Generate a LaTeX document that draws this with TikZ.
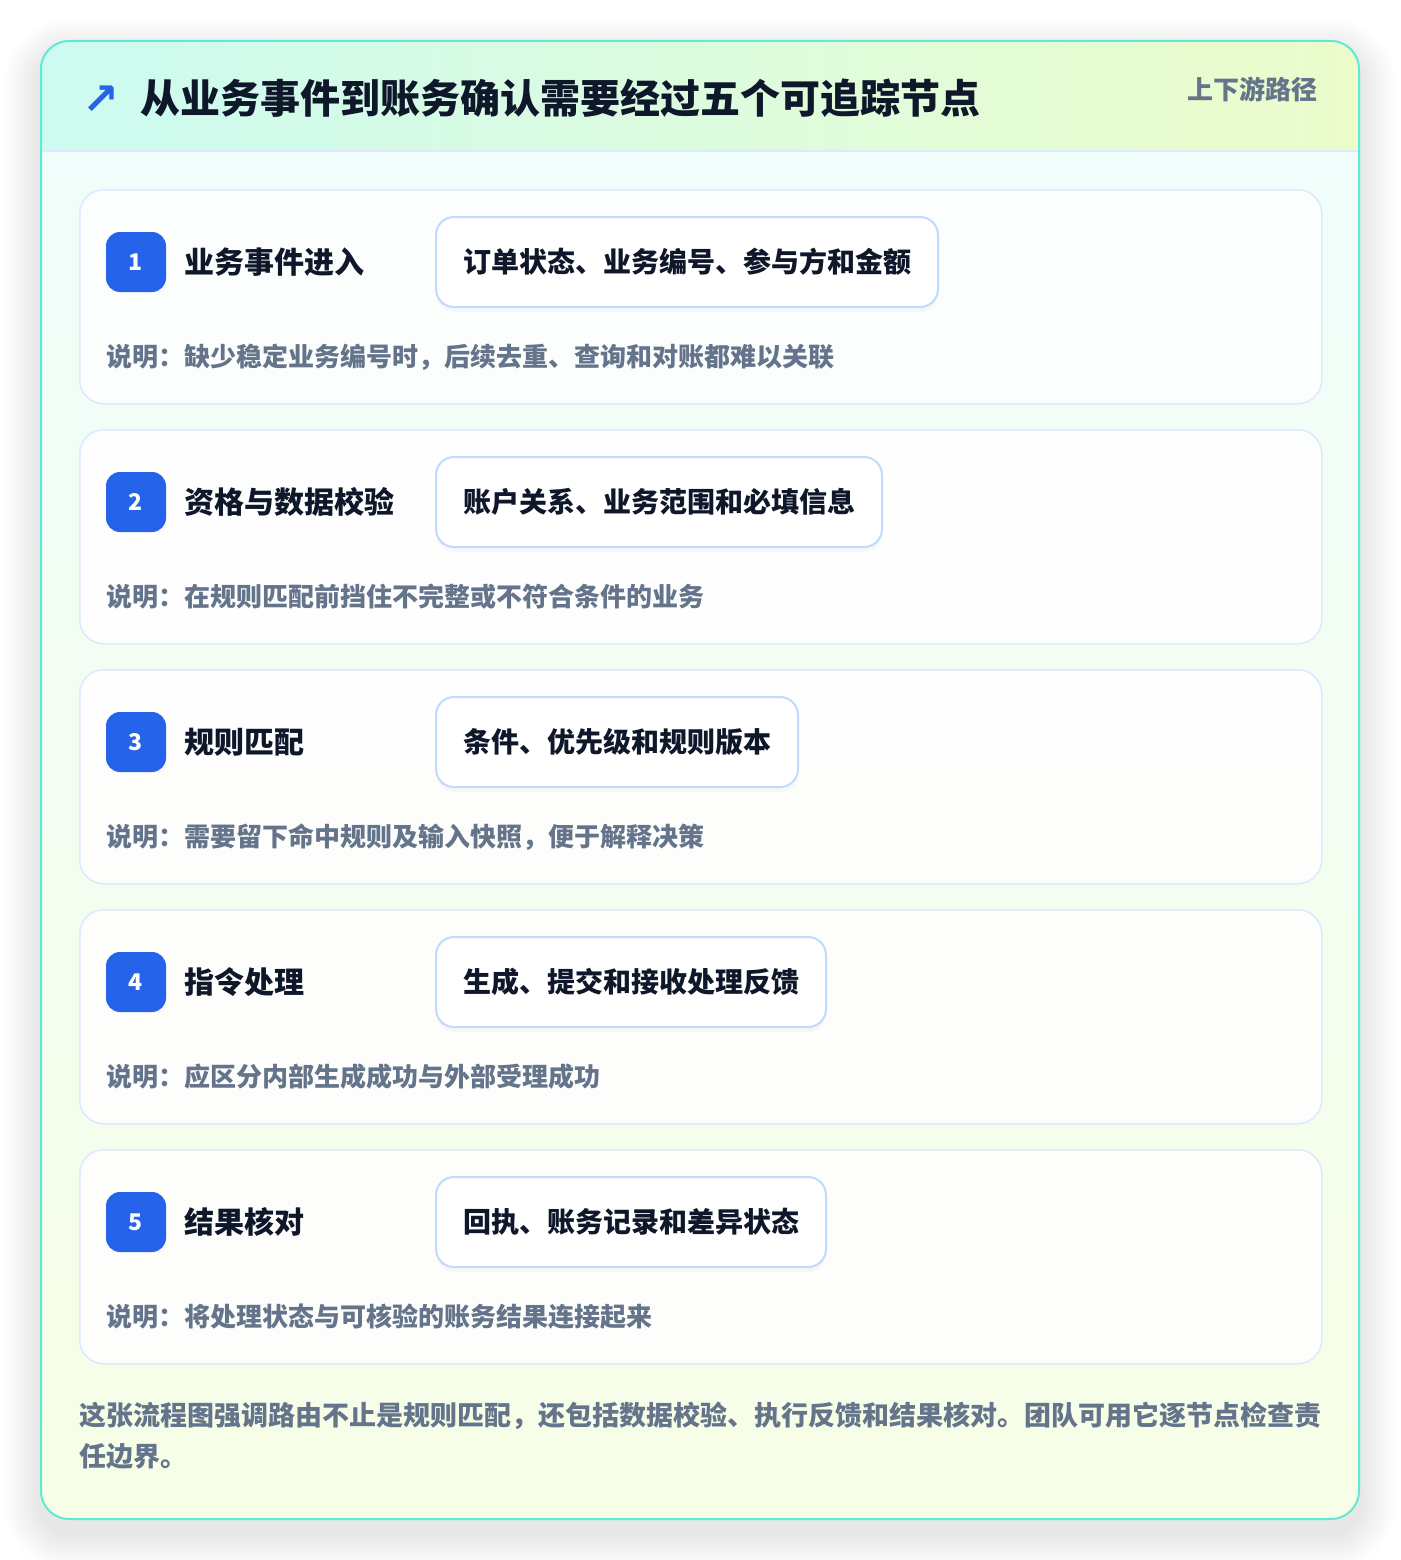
\documentclass[tikz,border=0pt]{standalone}
\usepackage{fontspec}
\setmainfont{Noto Sans CJK SC}
\newfontfamily\arrowfont{DejaVu Sans}
\usetikzlibrary{positioning,shadows}

\definecolor{rimteal}{HTML}{5EEAD4}
\definecolor{headmint}{HTML}{CCFBF1}
\definecolor{headlime}{HTML}{ECFCCB}
\definecolor{bodytop}{HTML}{F0FDFA}
\definecolor{bodybot}{HTML}{F7FEE7}
\definecolor{cardline}{HTML}{DBEAFE}
\definecolor{tagline}{HTML}{BFDBFE}
\definecolor{badgeblue}{HTML}{2563EB}
\definecolor{inkdark}{HTML}{0F172A}
\definecolor{inkgray}{HTML}{64748B}

\begin{document}
\begin{tikzpicture}[x=1pt, y=-1pt,
    cardbox/.style={draw=cardline, line width=1.5pt, fill=white, fill opacity=0.85,
        rounded corners=24pt, minimum width=1242pt, minimum height=214pt, anchor=north west},
    badge/.style={fill=badgeblue, rounded corners=14pt, minimum size=60pt, inner sep=0,
        text=white, font=\fontsize{23}{23}\selectfont\bfseries},
    steptitle/.style={inner sep=0, text=inkdark, font=\fontsize{30}{30}\selectfont\bfseries},
    tagbox/.style={draw=tagline, line width=2pt, fill=white, rounded corners=18pt,
        minimum height=90pt, inner xsep=27pt, inner ysep=0, anchor=west, text=inkdark,
        font=\fontsize{28}{28}\selectfont\bfseries,
        drop shadow={opacity=0.05, shadow xshift=0pt, shadow yshift=-5pt}},
    notetext/.style={inner sep=0, anchor=west, text=inkgray, font=\fontsize{26}{26}\selectfont\bfseries}]
\useasboundingbox (0,0) rectangle (1400,1560);
\fill[white] (0,0) rectangle (1400,1560);
%
% soft shadow of the panel
\foreach \i [evaluate=\i as \r using 28+3*\i] in {1,...,12}
    \fill[black, opacity=0.006, rounded corners=\r pt] (41-3*\i, 55-3*\i) rectangle (1359+3*\i, 1533+3*\i);
%
\begin{scope}
\clip[rounded corners=28pt] (41,41) rectangle (1359,1519);
\shade[left color=headmint, right color=headlime] (41,41) rectangle (1359,151);
\shade[top color=bodytop, bottom color=bodybot] (41,151) rectangle (1359,1519);
\end{scope}
\draw[cardline, line width=1.5pt] (41,151) -- (1359,151);
\draw[rimteal, line width=2pt, rounded corners=28pt] (41,41) rectangle (1359,1519);
%
\node[inner sep=0, text=badgeblue, font=\arrowfont\fontsize{44}{44}\selectfont\bfseries] (icon) at (101,100) {↗};
\node[anchor=west, inner sep=0, text=inkdark, font=\fontsize{40}{40}\selectfont\bfseries] (title) at (140,98) {从业务事件到账务确认需要经过五个可追踪节点};
\node[anchor=east, inner sep=0, text=inkgray, font=\fontsize{26}{26}\selectfont\bfseries] (route) at (1318,89) {上下游路径};
%
\foreach \n/\steptext/\tagtext/\notetext [evaluate=\n as \y using 189+(\n-1)*240] in {
    1/{业务事件进入}/{订单状态、业务编号、参与方和金额}/{说明：缺少稳定业务编号时，后续去重、查询和对账都难以关联},
    2/{资格与数据校验}/{账户关系、业务范围和必填信息}/{说明：在规则匹配前挡住不完整或不符合条件的业务},
    3/{规则匹配}/{条件、优先级和规则版本}/{说明：需要留下命中规则及输入快照，便于解释决策},
    4/{指令处理}/{生成、提交和接收处理反馈}/{说明：应区分内部生成成功与外部受理成功},
    5/{结果核对}/{回执、账务记录和差异状态}/{说明：将处理状态与可核验的账务结果连接起来}}
{
    \node[cardbox] (card\n) at (79,\y) {};
    \node[badge] (badge\n) at (136,\y+73) {\n};
    \node[steptitle, right=18pt of badge\n] (step\n) {\steptext};
    \node[tagbox] (tag\n) at (435,\y+73) {\tagtext};
    \node[notetext] (note\n) at (106,\y+168) {\notetext};
}
%
\node[anchor=west, inner sep=0, align=left, text=inkgray, font=\fontsize{27}{41}\selectfont\bfseries] (summary) at (79,1435.5)
    {这张流程图强调路由不止是规则匹配，还包括数据校验、执行反馈和结果核对。团队可用它逐节点检查责\\任边界。};
%%%%%%%%%%%%%%%%%%%%%%%%%%%%%%%
\end{tikzpicture}
\end{document}
